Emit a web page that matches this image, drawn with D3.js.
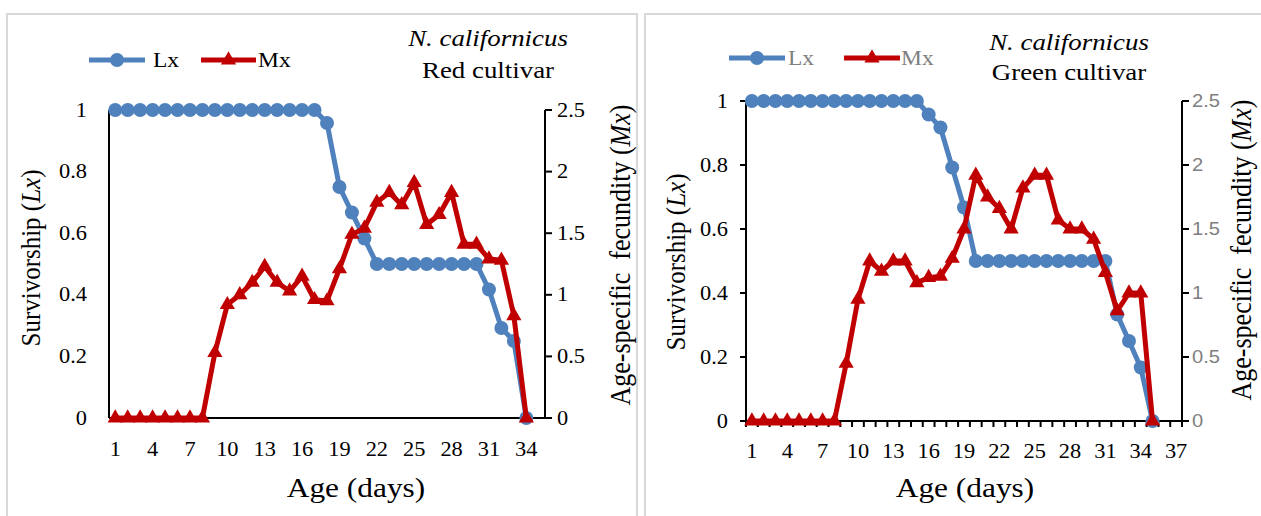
<!DOCTYPE html>
<html>
<head>
<meta charset="utf-8">
<script src="https://cdn.jsdelivr.net/npm/d3@7/dist/d3.min.js"></script>
<style>
  body { margin: 0; background: #fff; }
  svg { display: block; }
</style>
</head>
<body>
<svg id="chart" width="1261" height="516"></svg>
<script>
// ---- Data: survivorship (Lx) and age-specific fecundity (Mx) by age in days ----
const redDays = [1,2,3,4,5,6,7,8,9,10,11,12,13,14,15,16,17,18,19,20,21,22,23,24,25,26,27,28,29,30,31,32,33,34,35];
const redLx = [1,1,1,1,1,1,1,1,1,1,1,1,1,1,1,1,1,0.958,0.75,0.667,0.583,0.5,0.5,0.5,0.5,0.5,0.5,0.5,0.5,0.5,0.417,0.292,0.25,0];
const redMx = [0,0,0,0,0,0,0,0,0.53,0.92,1.0,1.10,1.23,1.10,1.03,1.15,0.96,0.95,1.21,1.49,1.54,1.75,1.83,1.73,1.91,1.57,1.65,1.83,1.41,1.41,1.29,1.28,0.83,0];

const greenDays = [1,2,3,4,5,6,7,8,9,10,11,12,13,14,15,16,17,18,19,20,21,22,23,24,25,26,27,28,29,30,31,32,33,34,35,36,37];
const greenLx = [1,1,1,1,1,1,1,1,1,1,1,1,1,1,1,0.958,0.917,0.792,0.667,0.5,0.5,0.5,0.5,0.5,0.5,0.5,0.5,0.5,0.5,0.5,0.5,0.333,0.25,0.167,0];
const greenMx = [0,0,0,0,0,0,0,0,0.45,0.95,1.25,1.17,1.25,1.25,1.08,1.12,1.13,1.27,1.5,1.92,1.75,1.66,1.5,1.82,1.92,1.92,1.57,1.5,1.5,1.42,1.16,0.86,1.0,1.0,0];

const lxTicks = [0, 0.2, 0.4, 0.6, 0.8, 1];
const mxTicks = [0, 0.5, 1, 1.5, 2, 2.5];
const dayLabels = [1,4,7,10,13,16,19,22,25,28,31,34,37];

const LX_COLOR = "#4F81BD";
const MX_COLOR = "#C00000";
const SERIF = "'Liberation Serif', 'Times New Roman', serif";
const SANS = "'Liberation Sans', Arial, sans-serif";
const SX = 1.12; // horizontal stretch applied to all lettering

const svg = d3.select("#chart");

// Text helper: positioned through a transform so glyphs can be widened.
function label(g, x, y, txt, opt = {}) {
  const rot = opt.rotate ? ` rotate(${opt.rotate})` : "";
  const t = g.append("text")
    .attr("transform", `translate(${x},${y}) scale(${SX},1)${rot}`)
    .attr("font-family", opt.family || SERIF)
    .attr("font-size", opt.size || 20)
    .attr("fill", opt.fill || "#000")
    .attr("text-anchor", opt.anchor || "middle")
    .attr("font-style", opt.italic ? "italic" : "normal")
    .attr("xml:space", "preserve")
    .style("white-space", "pre");
  if (opt.dy) t.attr("dy", opt.dy);
  if (Array.isArray(txt)) {
    txt.forEach(p => t.append("tspan").attr("font-style", p.italic ? "italic" : null).text(p.t));
  } else {
    t.text(txt);
  }
  return t;
}

function drawPanel(cfg) {
  const g = svg.append("g");

  // chart area frame
  g.append("rect")
    .attr("x", cfg.frame[0]).attr("y", cfg.frame[1])
    .attr("width", cfg.frame[2]).attr("height", cfg.frame[3])
    .attr("fill", "none").attr("stroke", "#d9d9d9").attr("stroke-width", 2);

  const x = d3.scaleBand().domain(cfg.days).range([cfg.left, cfg.right]).paddingInner(0).paddingOuter(0);
  const cx = d => x(d) + x.bandwidth() / 2;
  const yL = d3.scaleLinear().domain([0, 1]).range([cfg.bottom, cfg.top]);
  const yM = d3.scaleLinear().domain([0, 2.5]).range([cfg.bottom, cfg.top]);

  // axes lines and ticks
  const axisG = g.append("g").attr("stroke", "#000").attr("stroke-width", 2);
  axisG.append("line").attr("x1", cfg.left).attr("x2", cfg.left).attr("y1", yL(1)).attr("y2", cfg.bottom);
  axisG.append("line").attr("x1", cfg.right).attr("x2", cfg.right).attr("y1", yM(2.5)).attr("y2", cfg.bottom);
  axisG.append("line").attr("x1", cfg.left - (cfg.leftTicks ? 6 : 0)).attr("x2", cfg.right).attr("y1", cfg.bottom).attr("y2", cfg.bottom);

  if (cfg.leftTicks) {
    lxTicks.forEach(v => axisG.append("line").attr("x1", cfg.left - 6).attr("x2", cfg.left).attr("y1", yL(v)).attr("y2", yL(v)));
  }
  mxTicks.forEach(v => axisG.append("line").attr("x1", cfg.right).attr("x2", cfg.right + 7).attr("y1", yM(v)).attr("y2", yM(v)));
  if (cfg.xTicks) {
    const bounds = cfg.days.map(d => x(d)).concat([cfg.right]);
    bounds.forEach(b => axisG.append("line").attr("x1", b).attr("x2", b).attr("y1", cfg.bottom).attr("y2", cfg.bottom + 6));
  }

  // tick labels
  lxTicks.forEach(v => label(g, cfg.leftLabelX, yL(v), String(v), { anchor: "end", dy: "0.33em", size: 20 }));
  mxTicks.forEach(v => label(g, cfg.rightLabelX, yM(v), String(v), {
    anchor: "start", dy: "0.33em", size: cfg.rightLabelSans ? 18 : 20,
    family: cfg.rightLabelSans ? SANS : SERIF, fill: cfg.rightLabelFill || "#000"
  }));
  dayLabels.filter(d => cfg.days.includes(d))
    .forEach(d => label(g, cx(d), cfg.xLabelY, String(d), { size: 20 }));

  // axis titles
  label(g, cfg.xTitleX, cfg.xTitleY, "Age (days)", { size: 28 });
  label(g, cfg.yTitleX, cfg.yTitleY, [{ t: "Survivorship (" }, { t: "Lx", italic: true }, { t: ")" }],
    { size: 25, rotate: -90 });
  label(g, cfg.y2TitleX, cfg.y2TitleY, [{ t: "Age-specific  fecundity (" }, { t: "Mx", italic: true }, { t: ")" }],
    { size: 26, rotate: -90 });

  // chart titles
  label(g, cfg.titleX, cfg.titleY1, "N. californicus", { size: 24, italic: true });
  label(g, cfg.titleX, cfg.titleY2, cfg.cultivar, { size: 24 });

  // series
  const lxData = cfg.lx.map((v, i) => ({ d: cfg.days[i], v }));
  const mxData = cfg.mx.map((v, i) => ({ d: cfg.days[i], v }));

  g.append("path").datum(lxData)
    .attr("fill", "none").attr("stroke", LX_COLOR).attr("stroke-width", 5).attr("stroke-linejoin", "round")
    .attr("d", d3.line().x(p => cx(p.d)).y(p => yL(p.v)));
  g.selectAll(null).data(lxData).enter().append("circle")
    .attr("cx", p => cx(p.d)).attr("cy", p => yL(p.v)).attr("r", 7).attr("fill", LX_COLOR);

  const tri = d3.symbol().type(d3.symbolTriangle).size(100);
  g.append("path").datum(mxData)
    .attr("fill", "none").attr("stroke", MX_COLOR).attr("stroke-width", 5).attr("stroke-linejoin", "round")
    .attr("d", d3.line().x(p => cx(p.d)).y(p => yM(p.v)));
  g.selectAll(null).data(mxData).enter().append("path")
    .attr("d", tri).attr("fill", MX_COLOR)
    .attr("transform", p => `translate(${cx(p.d)},${yM(p.v)})`);

  // legend
  const lg = g.append("g");
  const L = cfg.legend;
  lg.append("line").attr("x1", L.lx1).attr("x2", L.lx2).attr("y1", L.y).attr("y2", L.y)
    .attr("stroke", LX_COLOR).attr("stroke-width", 5);
  lg.append("circle").attr("cx", (L.lx1 + L.lx2) / 2).attr("cy", L.y).attr("r", 7).attr("fill", LX_COLOR);
  label(lg, L.lxText, L.y, "Lx", { anchor: "start", dy: "0.33em", size: 21, fill: L.textFill });
  lg.append("line").attr("x1", L.mx1).attr("x2", L.mx2).attr("y1", L.y).attr("y2", L.y)
    .attr("stroke", MX_COLOR).attr("stroke-width", 5);
  lg.append("path").attr("d", tri).attr("fill", MX_COLOR)
    .attr("transform", `translate(${(L.mx1 + L.mx2) / 2},${L.y})`);
  label(lg, L.mxText, L.y, "Mx", { anchor: "start", dy: "0.33em", size: 21, fill: L.textFill });
}

drawPanel({
  frame: [7, 14, 630, 600],
  days: redDays, lx: redLx, mx: redMx, cultivar: "Red cultivar",
  left: 109, right: 545, top: 110, bottom: 418,
  leftTicks: false, xTicks: false,
  leftLabelX: 87, rightLabelX: 557, xLabelY: 456,
  xTitleX: 356, xTitleY: 497, yTitleX: 40, yTitleY: 258, y2TitleX: 630, y2TitleY: 255,
  titleX: 488, titleY1: 46, titleY2: 78,
  legend: { y: 60, lx1: 89, lx2: 145, lxText: 153, mx1: 201, mx2: 256, mxText: 258, textFill: "#000" }
});

drawPanel({
  frame: [645, 14, 700, 600],
  days: greenDays, lx: greenLx, mx: greenMx, cultivar: "Green cultivar",
  left: 746, right: 1182, top: 101, bottom: 421,
  leftTicks: true, xTicks: true,
  leftLabelX: 728, rightLabelX: 1192, rightLabelSans: true, rightLabelFill: "#7f7f7f", xLabelY: 458,
  xTitleX: 965, xTitleY: 497, yTitleX: 685, yTitleY: 262, y2TitleX: 1251, y2TitleY: 250,
  titleX: 1069, titleY1: 50, titleY2: 80,
  legend: { y: 58, lx1: 729, lx2: 785, lxText: 788, mx1: 844, mx2: 900, mxText: 901, textFill: "#7f7f7f" }
});
</script>
</body>
</html>
